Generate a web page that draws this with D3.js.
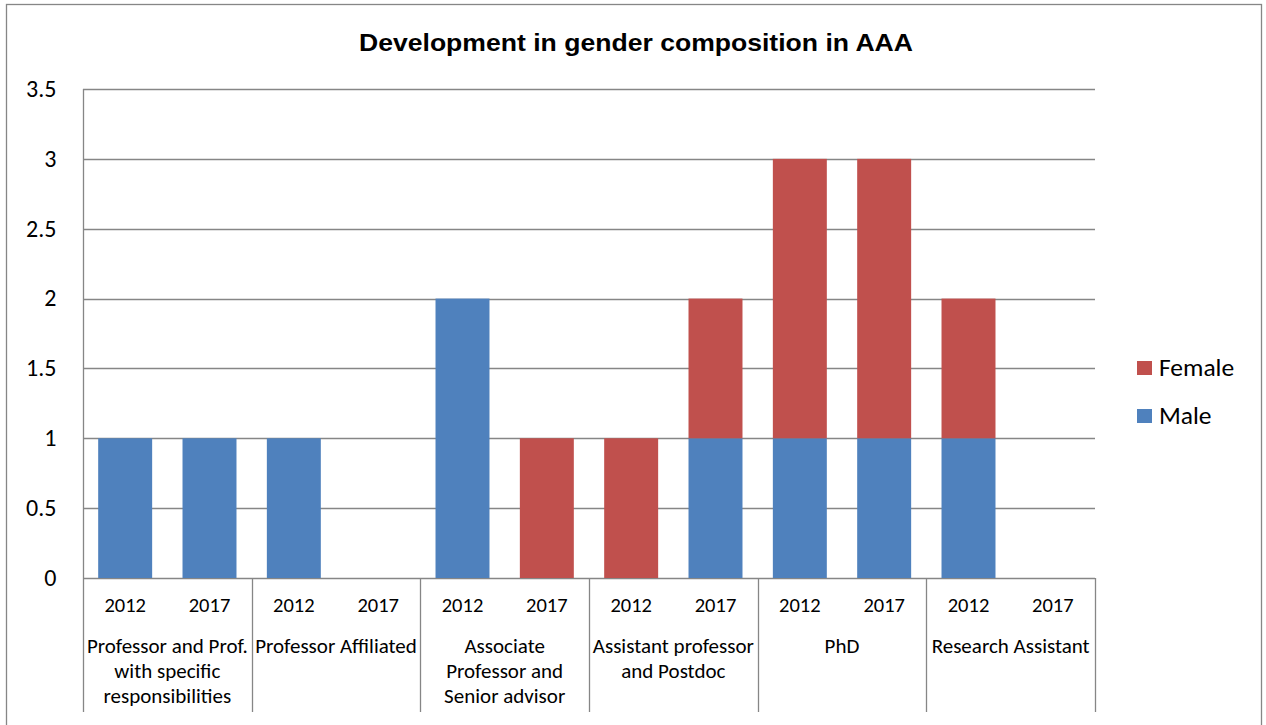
<!DOCTYPE html>
<html><head><meta charset="utf-8">
<script src="https://cdn.jsdelivr.net/npm/d3@7"></script>
<style>body{margin:0;background:#fff}svg{display:block}</style>
</head><body>
<script>
const categories = ["Professor and Prof. with specific responsibilities","Professor Affiliated","Associate Professor and Senior advisor","Assistant professor and Postdoc","PhD","Research Assistant"];
const categoryLines = [["Professor and Prof.","with specific","responsibilities"],["Professor Affiliated"],["Associate","Professor and","Senior advisor"],["Assistant professor","and Postdoc"],["PhD"],["Research Assistant"]];
const years = ["2012","2017"];
const male =   [1,1, 1,0, 2,0, 0,1, 1,1, 1,0];
const female = [0,0, 0,0, 0,1, 1,1, 2,2, 1,0];
const yTicks = [0,0.5,1,1.5,2,2.5,3,3.5];
const seriesNames = ["Male","Female"];
const colors = {Male:"#4F81BD", Female:"#C0504D"};

(function(){
const W=1266,H=725;
const svg=d3.select("body").append("svg").attr("width",W).attr("height",H);
const font="Carlito, Calibri, sans-serif";
svg.append("rect").attr("x",6.5).attr("y",4.5).attr("width",1255).attr("height",730).attr("fill","#fff").attr("stroke","#868686").attr("stroke-width",1.3);

const pL=83,pR=1095,pT=89,pB=578;
const slots=[];
categories.forEach((c,i)=>years.forEach(y=>slots.push(i+"|"+y)));
const x=d3.scaleBand().domain(slots).range([pL,pR]).paddingInner(0.36).paddingOuter(0.18);
const xc=d3.scaleBand().domain(categories).range([pL,pR]);
const y=d3.scaleLinear().domain([0,3.5]).range([pB,pT]);

svg.append("g").selectAll("line").data(yTicks).join("line")
 .attr("x1",pL).attr("x2",pR).attr("y1",d=>Math.round(y(d))+0.5).attr("y2",d=>Math.round(y(d))+0.5)
 .attr("stroke","#868686").attr("stroke-width",1.3);
svg.append("line").attr("x1",pL+0.5).attr("x2",pL+0.5).attr("y1",pT).attr("y2",712).attr("stroke","#868686").attr("stroke-width",1.3);
svg.append("g").selectAll("text").data(yTicks).join("text")
 .attr("x",56.5).attr("y",d=>y(d)).attr("dy","0.33em").attr("text-anchor","end")
 .attr("font-family",font).attr("font-size",24).attr("fill","#000").text(d=>d);

const rows=slots.map((s,i)=>({slot:s,Male:male[i],Female:female[i]}));
const stack=d3.stack().keys(seriesNames)(rows);
svg.append("g").selectAll("g").data(stack).join("g").attr("fill",d=>colors[d.key])
 .selectAll("rect").data(d=>d).join("rect")
 .attr("x",d=>x(d.data.slot)).attr("width",x.bandwidth())
 .attr("y",d=>y(d[1])).attr("height",d=>y(d[0])-y(d[1]));

svg.append("g").selectAll("line").data(categories).join("line")
 .attr("x1",d=>Math.round(xc(d)+xc.bandwidth())+0.5).attr("x2",d=>Math.round(xc(d)+xc.bandwidth())+0.5)
 .attr("y1",pB).attr("y2",712).attr("stroke","#868686").attr("stroke-width",1.3);

svg.append("g").selectAll("text").data(slots).join("text")
 .attr("x",d=>x(d)+x.bandwidth()/2).attr("y",612).attr("text-anchor","middle")
 .attr("font-family",font).attr("font-size",20.5).attr("fill","#000").text(d=>d.split("|")[1]);

const cg=svg.append("g").selectAll("text").data(categories).join("text")
 .attr("text-anchor","middle").attr("font-family",font).attr("font-size",21).attr("fill","#000");
cg.each(function(d,i){
  const t=d3.select(this);
  categoryLines[i].forEach((ln,j)=>t.append("tspan").attr("x",xc(d)+xc.bandwidth()/2).attr("y",653+j*25).text(ln));
});

svg.append("text").attr("x",359).attr("y",51)
 .attr("font-family","'Liberation Sans', Arial, sans-serif").attr("font-weight","bold").attr("font-size",24.5)
 .attr("textLength",554).attr("lengthAdjust","spacingAndGlyphs").text("Development in gender composition in AAA");

const legend=["Female","Male"];
const lg=svg.append("g").selectAll("g").data(legend).join("g").attr("transform",(d,i)=>`translate(1137,${361+i*48})`);
lg.append("rect").attr("width",15).attr("height",14).attr("fill",d=>colors[d]);
lg.append("text").attr("x",22).attr("y",15).attr("font-family",font).attr("font-size",25.5).text(d=>d);
})();
</script>
</body></html>
